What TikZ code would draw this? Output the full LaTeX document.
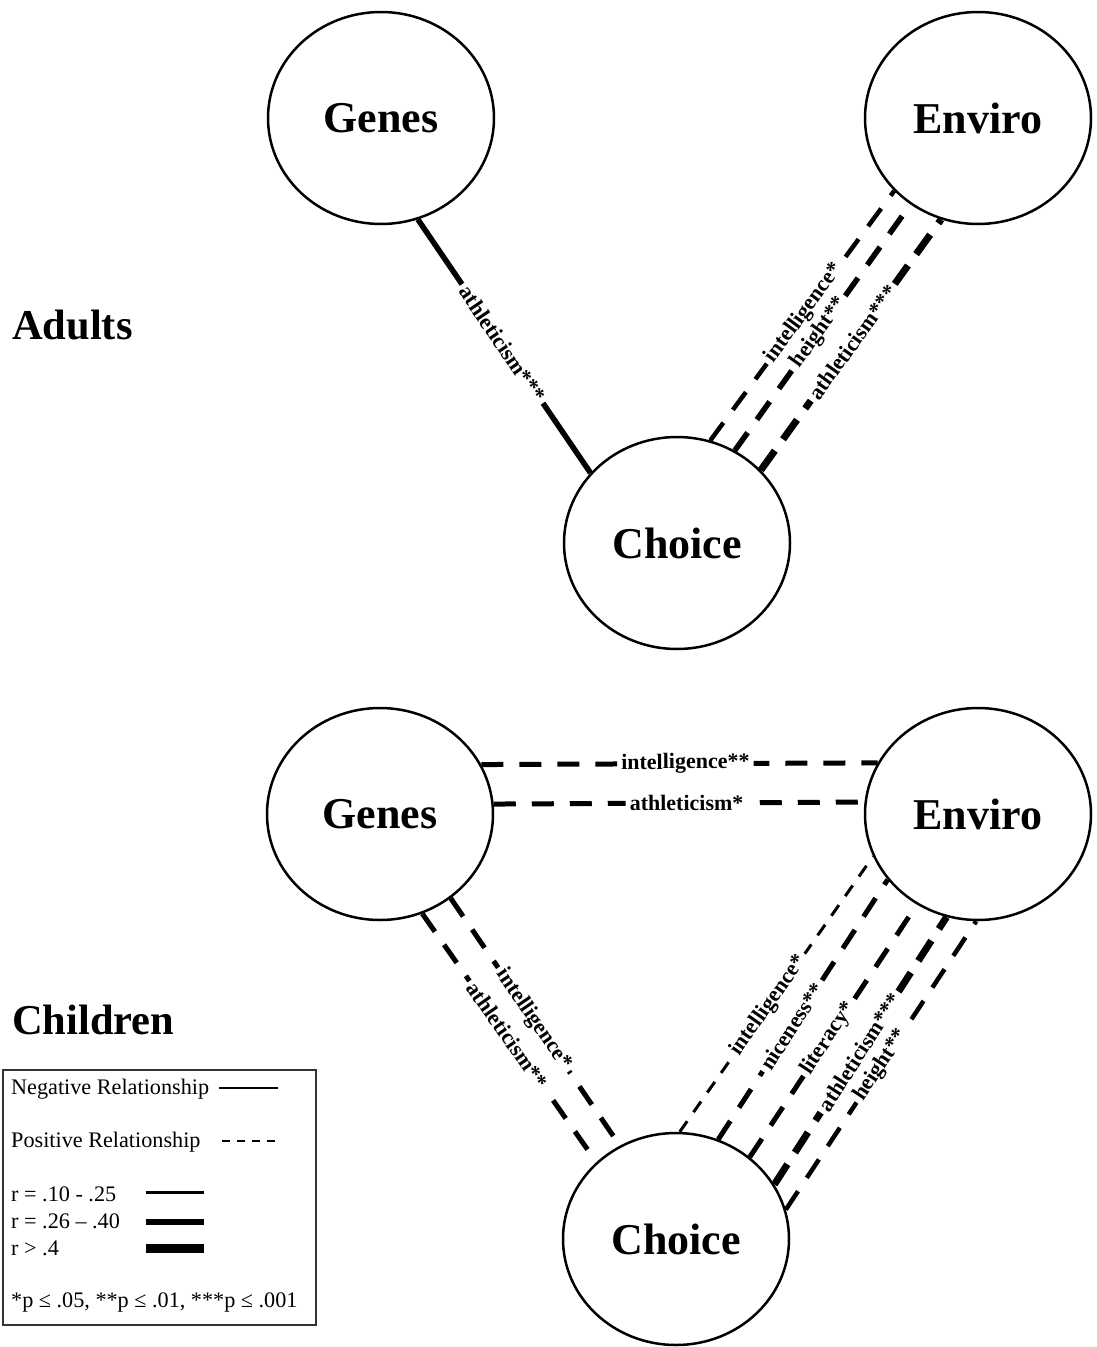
\documentclass[tikz,border=0pt]{standalone}
\usepackage{fontspec}
\setmainfont{Liberation Serif}
\usetikzlibrary{shapes.geometric}
\begin{document}
\begin{tikzpicture}[x=1pt,y=-1pt,
  circ/.style={ellipse,draw,line width=2.5pt,minimum width=226pt,minimum height=212pt,inner sep=0pt,
    font=\fontsize{44}{50}\selectfont\bfseries},
  grp/.style={anchor=west,inner sep=0pt,font=\fontsize{42.5}{50}\selectfont\bfseries},
  lblbox/.style={sloped,fill=white,inner xsep=4pt,inner ysep=0pt,font=\fontsize{22}{26}\selectfont\bfseries},
  lbl/.style={sloped,inner xsep=4pt,inner ysep=0pt,font=\fontsize{22}{26}\selectfont\bfseries},
  legtxt/.style={anchor=west,inner sep=0pt,font=\fontsize{22.2}{26}\selectfont},
  solidmed/.style={line width=5.5pt},
  dthin/.style={line width=3pt,dash pattern=on 13pt off 11pt},
  dmed/.style={line width=#1,dash pattern=on 22pt off 16pt},
  dmed/.default=5pt,
  dthick/.style={line width=7pt,dash pattern=on 24pt off 14pt}]
\useasboundingbox (0,0) rectangle (1097,1347);

% ---------- Adults ----------
\node[circ] (ag) at (381,118) {Genes};
\node[circ] (ae) at (978,118) {Enviro};
\node[circ] (ac) at (677,543) {Choice};
\node[grp] (adults) at (12,325) {Adults};

\draw[solidmed] (ag.290.9) -- node[lblbox,pos=0.49] {\phantom{athleticism***}} (ac.141.9);
\draw[dmed=4.5pt] (ac.72) -- node[lblbox,pos=0.51] {\phantom{intelligence*}} (ae.221);
\draw[dmed=5.5pt] (ac.58.6) -- node[lblbox,pos=0.48] {\phantom{height**}} (ae.232.5);
\draw[dthick] (ac.41.3) -- node[lblbox,pos=0.51] {\phantom{athleticism***}} (ae.250.2);

% ---------- Children ----------
\node[circ] (cg) at (380,814) {Genes};
\node[circ] (ce) at (978,814) {Enviro};
\node[circ] (cc) at (676,1239) {Choice};
\node[grp] (children) at (12,1020) {Children};

\draw[dmed] (cg.26.1) -- node[lblbox,pos=0.515] {\phantom{intelligence**}} (ce.153.9);
\draw[dmed] (cg.5.6) -- node[lblbox,pos=0.52] {\phantom{athleticism*}} (ce.174.4);

\draw[dmed] (cg.310.7) -- node[lblbox,pos=0.49] {\phantom{intelligence*}} (cc.121.6);
\draw[dmed] (cg.293.2) -- node[lblbox,pos=0.49] {\phantom{athleticism**}} (cc.136.1);

\draw[dthin] (cc.88.9) -- node[lblbox,pos=0.46] {\phantom{intelligence*}} (ce.202.6);
\draw[dmed] (cc.67.4) -- node[lblbox,pos=0.435] {\phantom{niceness**}} (ce.216.4);
\draw[dmed] (cc.48.6) -- node[lblbox,pos=0.47] {\phantom{literacy*}} (ce.236.5);
\draw[dthick] (cc.29) -- node[lblbox,pos=0.495] {\phantom{athleticism***}} (ce.253.5);
\draw[dmed=4.5pt] (cc.15.4) -- node[lblbox,pos=0.5] {\phantom{height**}} (ce.269.5);

% ---------- connector labels (text pass) ----------
\path (ag.290.9) -- node[lbl,pos=0.49] (l1) {athleticism***} (ac.141.9);
\path (ac.72) -- node[lbl,pos=0.51] (l2) {intelligence*} (ae.221);
\path (ac.58.6) -- node[lbl,pos=0.48] (l3) {height**} (ae.232.5);
\path (ac.41.3) -- node[lbl,pos=0.51] (l4) {athleticism***} (ae.250.2);
\path (cg.26.1) -- node[lbl,pos=0.515] (l5) {intelligence**} (ce.153.9);
\path (cg.5.6) -- node[lbl,pos=0.52] (l6) {athleticism*} (ce.174.4);
\path (cg.310.7) -- node[lbl,pos=0.49] (l7) {intelligence*} (cc.121.6);
\path (cg.293.2) -- node[lbl,pos=0.49] (l8) {athleticism**} (cc.136.1);
\path (cc.88.9) -- node[lbl,pos=0.46] (l9) {intelligence*} (ce.202.6);
\path (cc.67.4) -- node[lbl,pos=0.435] (l10) {niceness**} (ce.216.4);
\path (cc.48.6) -- node[lbl,pos=0.47] (l11) {literacy*} (ce.236.5);
\path (cc.29) -- node[lbl,pos=0.495] (l12) {athleticism***} (ce.253.5);
\path (cc.15.4) -- node[lbl,pos=0.5] (l13) {height**} (ce.269.5);

% ---------- Legend ----------
\draw[line width=1.2pt,black!80] (3,1070) rectangle (316,1325);
\node[legtxt] (neg) at (11,1089) {Negative Relationship};
\draw[line width=1.5pt] (219,1088) -- (278,1088);
\node[legtxt] (posr) at (11,1142) {Positive Relationship};
\draw[line width=1.5pt,dash pattern=on 8pt off 7pt] (222,1141) -- (280,1141);
\node[legtxt] (r1) at (11,1194) {r = .10 - .25};
\draw[line width=3pt] (146,1192) -- (204,1192);
\node[legtxt] (r2) at (11,1221) {r = .26 – .40};
\draw[line width=5.5pt] (146,1222) -- (204,1222);
\node[legtxt] (r3) at (11,1248) {r > .4};
\draw[line width=9pt] (146,1248) -- (204,1248);
\node[legtxt] (pv) at (11,1302) {*p ≤ .05, **p ≤ .01, ***p ≤ .001};
\end{tikzpicture}
\end{document}
